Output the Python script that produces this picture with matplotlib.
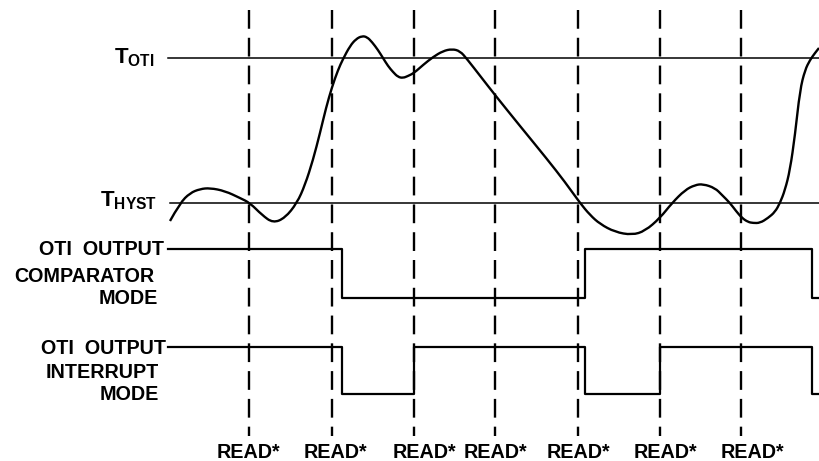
import matplotlib
matplotlib.use('Agg')
import matplotlib.pyplot as plt
from matplotlib.path import Path
from matplotlib.patches import PathPatch

plt.rcParams['font.family'] = ['Liberation Sans', 'DejaVu Sans']
plt.rcParams['font.weight'] = 'bold'
plt.rcParams['mathtext.fontset'] = 'custom'
plt.rcParams['mathtext.rm'] = 'Liberation Sans:bold'
plt.rcParams['mathtext.bf'] = 'Liberation Sans:bold'
plt.rcParams['lines.scale_dashes'] = False

# Diagram drawn in pixel units of the original picture (x right, y down)
# Temperature curve trace
curve_x = [170, 180, 190, 200, 210, 225, 240, 250, 262, 273, 285, 297, 305, 313, 320,
           326, 332, 338, 343, 350, 356, 362, 367, 372, 378, 383, 388, 393, 398, 403,
           408, 414, 423, 433, 443, 452, 460, 467, 481, 495, 520, 547, 565, 580, 590,
           600, 615, 632, 645, 660, 672, 685, 695, 703, 715, 722, 730, 736, 742, 748,
           753, 760, 768, 775, 780, 785, 790, 795, 800, 805, 810, 815, 819]
curve_y = [221, 203, 193, 189, 188, 191, 198, 203, 215, 223, 218, 203, 185, 160, 133,
           108, 87, 70, 59, 46, 39, 36, 37, 42, 50, 58, 66, 72, 77, 78,
           76, 73, 65, 57, 51, 49, 51, 59, 77, 95, 126, 159, 182, 203, 215,
           224, 232, 235, 231, 218, 203, 190, 185, 184, 188, 195, 203, 211, 218, 222,
           223, 223, 218, 212, 203, 190, 170, 135, 90, 70, 60, 53, 48]

# Threshold levels (pixel y)
t_oti_y = 58
t_hyst_y = 203

# Read instants (pixel x)
read_x = [249, 332, 414, 495, 578, 660, 741]
read_label_x = [248, 335, 424, 495, 578, 665, 752]

# OTI output waveforms: transition x positions, levels (1 = high)
comp_edges = [168, 342, 585, 812, 819]
comp_levels = [1, 0, 1, 0]
intr_edges = [168, 342, 414, 585, 660, 812, 819]
intr_levels = [1, 0, 1, 0, 1, 0]

comp_hi, comp_lo = 249, 298
intr_hi, intr_lo = 347, 394


def step_xy(edges, levels, hi, lo):
    xs, ys = [], []
    for i, lv in enumerate(levels):
        y = hi if lv else lo
        xs += [edges[i], edges[i + 1]]
        ys += [y, y]
    return xs, ys


def smooth_path(xs, ys):
    # quadratic curve through midpoints, traced points used as control points
    pts = list(zip(xs, ys))
    verts = [pts[0]]
    codes = [Path.MOVETO]
    for i in range(1, len(pts) - 1):
        mid = ((pts[i][0] + pts[i + 1][0]) / 2, (pts[i][1] + pts[i + 1][1]) / 2)
        verts += [pts[i], mid]
        codes += [Path.CURVE3, Path.CURVE3]
    verts.append(pts[-1])
    codes.append(Path.LINETO)
    return Path(verts, codes)


fig = plt.figure(figsize=(8.19, 4.61), dpi=100)
ax = fig.add_axes([0, 0, 1, 1])
ax.set_xlim(0, 819)
ax.set_ylim(461, 0)
ax.axis('off')

# threshold lines
ax.plot([168, 819], [t_oti_y, t_oti_y], color='black', lw=1.1)
ax.plot([170, 819], [t_hyst_y, t_hyst_y], color='black', lw=1.1)

# read dashed lines
for x in read_x:
    ax.plot([x, x], [10, 436], color='black', lw=1.7, dashes=(13.5, 6.5))

# temperature curve
ax.add_patch(PathPatch(smooth_path(curve_x, curve_y), fill=False,
                       edgecolor='black', lw=1.7))

# output waveforms
cx, cy = step_xy(comp_edges, comp_levels, comp_hi, comp_lo)
ax.plot(cx, cy, color='black', lw=1.6)
ix, iy = step_xy(intr_edges, intr_levels, intr_hi, intr_lo)
ax.plot(ix, iy, color='black', lw=1.6)

fs = 14.2
ax.text(155, t_oti_y, r'$\mathrm{T}_{\mathrm{OTI}}$', fontsize=16, ha='right', va='center')
ax.text(157, t_hyst_y - 2, r'$\mathrm{T}_{\mathrm{HYST}}$', fontsize=16, ha='right', va='center')

ax.text(164, 249, 'OTI  OUTPUT', fontsize=fs, ha='right', va='center')
ax.text(154, 276, 'COMPARATOR', fontsize=fs, ha='right', va='center')
ax.text(158, 298, 'MODE', fontsize=fs, ha='right', va='center')
ax.text(166, 348, 'OTI  OUTPUT', fontsize=fs, ha='right', va='center')
ax.text(159, 372, 'INTERRUPT', fontsize=fs, ha='right', va='center')
ax.text(159, 394, 'MODE', fontsize=fs, ha='right', va='center')

for x in read_label_x:
    ax.text(x, 452, 'READ*', fontsize=fs, ha='center', va='center')

fig.savefig('out.png', dpi=100)
